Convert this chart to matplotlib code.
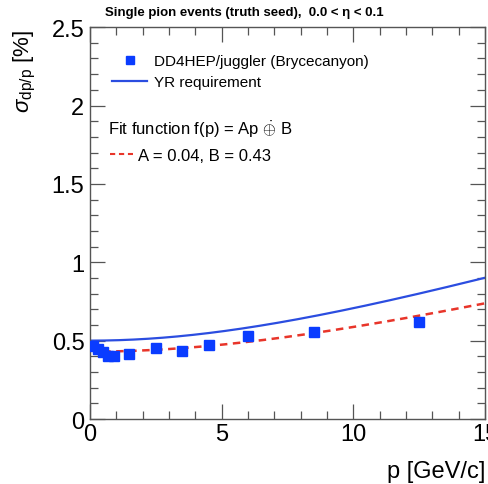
import numpy as np
import matplotlib
matplotlib.use('Agg')
import matplotlib.pyplot as plt
from matplotlib.lines import Line2D
from matplotlib.ticker import MultipleLocator, FuncFormatter

plt.rcParams['font.family'] = ['Liberation Sans', 'DejaVu Sans']
plt.rcParams['mathtext.fontset'] = 'custom'
plt.rcParams['mathtext.rm'] = 'Liberation Sans'
plt.rcParams['mathtext.it'] = 'Liberation Sans:italic'
plt.rcParams['mathtext.sf'] = 'Liberation Sans'

p_vals = [0.1, 0.3, 0.5, 0.7, 0.9, 1.5, 2.5, 3.5, 4.5, 6.0, 8.5, 12.5]
res_vals = [0.467, 0.446, 0.425, 0.40, 0.40, 0.415, 0.451, 0.436, 0.472, 0.527, 0.557, 0.62]

# fit parameters (from the legend) and YR requirement parameters
fit_A, fit_B = 0.04, 0.43
yr_A, yr_B = 0.05, 0.5

title = 'Single pion events (truth seed),  0.0 < \u03b7 < 0.1'

fig = plt.figure(figsize=(4.89, 4.85), dpi=100)
ax = fig.add_axes([0.184, 0.134, 0.808, 0.808])

p = np.linspace(0, 15, 300)
yr = np.sqrt((yr_A * p) ** 2 + yr_B ** 2)
pf = np.linspace(0.5, 15, 300)
fit = np.sqrt((fit_A * pf) ** 2 + fit_B ** 2)

ax.plot(p, yr, color='#2b4de0', lw=1.6, zorder=2)
ax.plot(pf, fit, color='#e8352a', lw=1.8, ls=(0, (3, 2.2)), zorder=3)
ax.plot(p_vals, res_vals, 's', color='#0a3cff', ms=7, mec='#0a3cff', zorder=4)

ax.set_xlim(0, 15)
ax.set_ylim(0, 2.5)
ax.xaxis.set_major_locator(MultipleLocator(5))
ax.xaxis.set_minor_locator(MultipleLocator(1))
ax.yaxis.set_major_locator(MultipleLocator(0.5))
ax.yaxis.set_minor_locator(MultipleLocator(0.1))
ax.tick_params(which='both', direction='in', top=True, right=True,
               color='#555555', labelsize=17)
ax.tick_params(which='major', length=11, width=0.9)
ax.tick_params(which='minor', length=6, width=0.9)
ax.tick_params(axis='x', pad=3)
ax.tick_params(axis='y', pad=4)
ax.yaxis.set_major_formatter(FuncFormatter(lambda v, pos: '%g' % v))
for s in ax.spines.values():
    s.set_color('#555555')
    s.set_linewidth(1.0)

ax.set_xlabel('p [GeV/c]', fontsize=17, loc='right')
ax.xaxis.set_label_coords(1.0, -0.105)
ax.set_ylabel(r'$\sigma_{\rm dp/p}$ [%]', fontsize=16, loc='top')
ax.yaxis.set_label_coords(-0.132, 0.995)

fig.text(105 / 489, 0.973, title, fontsize=9.5, fontweight='bold', ha='left', va='center')

h1 = Line2D([], [], ls='none', marker='s', color='#0a3cff', ms=6)
h2 = Line2D([], [], color='#2b4de0', lw=1.6)
leg1 = ax.legend([h1, h2], ['DD4HEP/juggler (Brycecanyon)', 'YR requirement'],
                 loc='center left', bbox_to_anchor=(0.056, 0.887), frameon=False,
                 borderpad=0, borderaxespad=0,
                 fontsize=11, handlelength=2.3, handletextpad=0.45, labelspacing=0.45)
ax.add_artist(leg1)

ax.text(0.046, 0.74, 'Fit function f(p) = Ap $\\dot{\\oplus}$ B', fontsize=12,
        transform=ax.transAxes, ha='left', va='center')
h3 = Line2D([], [], color='#e8352a', lw=1.5, ls=(0, (2.5, 1.8)))
leg2 = ax.legend([h3], ['A = 0.04, B = 0.43'], loc='center left',
                 bbox_to_anchor=(0.05, 0.672), frameon=False, fontsize=12,
                 borderpad=0, borderaxespad=0,
                 handlelength=1.4, handletextpad=0.3)

fig.savefig('out.png', dpi=100)
